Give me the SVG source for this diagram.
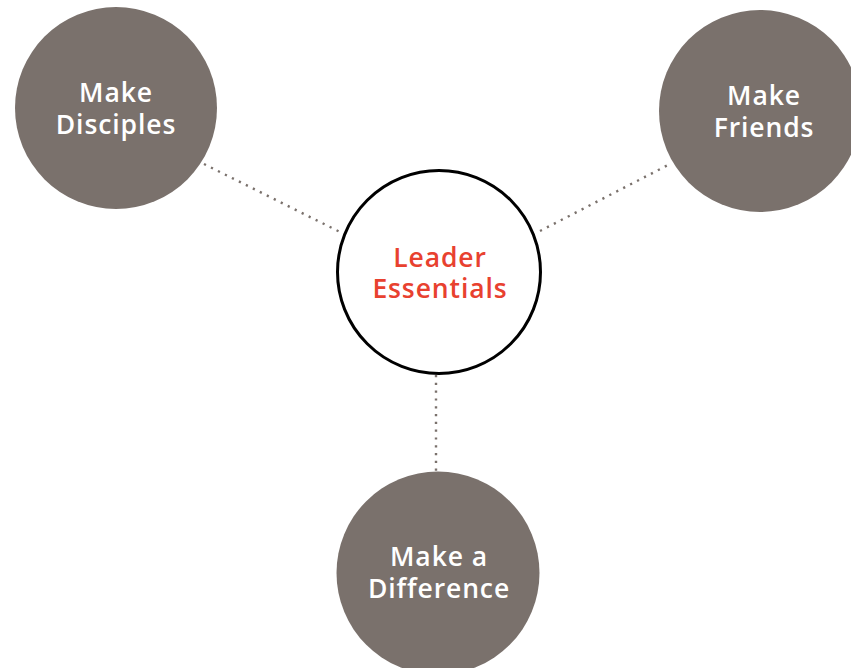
<svg xmlns="http://www.w3.org/2000/svg" width="851" height="668" viewBox="0 0 851 668">
<style>
.sat{fill:#7a716c}
.lbl{font-family:"Open Sans","Liberation Sans",sans-serif;font-size:26.5px;font-weight:600;text-anchor:middle;fill:#ffffff;letter-spacing:0.9px}
.ctr{fill:#e8412f}
.dot{stroke:#7a716c;stroke-width:2.4;stroke-dasharray:2.2 5.6;fill:none}
</style>
<rect width="851" height="668" fill="#ffffff"/>
<g id="connectors">
<line class="dot" x1="204" y1="164" x2="342" y2="233"/>
<line class="dot" x1="540" y1="231" x2="670" y2="164"/>
<line class="dot" x1="436" y1="375" x2="436" y2="472"/>
</g>
<g id="node-center">
<circle cx="439" cy="272" r="101.5" fill="#ffffff" stroke="#000000" stroke-width="3"/>
<text class="lbl ctr"><tspan x="440" y="267">Leader</tspan><tspan x="440" y="298">Essentials</tspan></text>
</g>
<g id="node-disciples">
<circle class="sat" cx="116" cy="108" r="101"/>
<text class="lbl"><tspan x="116" y="102">Make</tspan><tspan x="116" y="134">Disciples</tspan></text>
</g>
<g id="node-friends">
<circle class="sat" cx="760" cy="111" r="101"/>
<text class="lbl"><tspan x="764" y="105">Make</tspan><tspan x="764" y="137">Friends</tspan></text>
</g>
<g id="node-difference">
<circle class="sat" cx="438" cy="573" r="101.5"/>
<text class="lbl"><tspan x="439" y="566">Make a</tspan><tspan x="439" y="598">Difference</tspan></text>
</g>
</svg>
